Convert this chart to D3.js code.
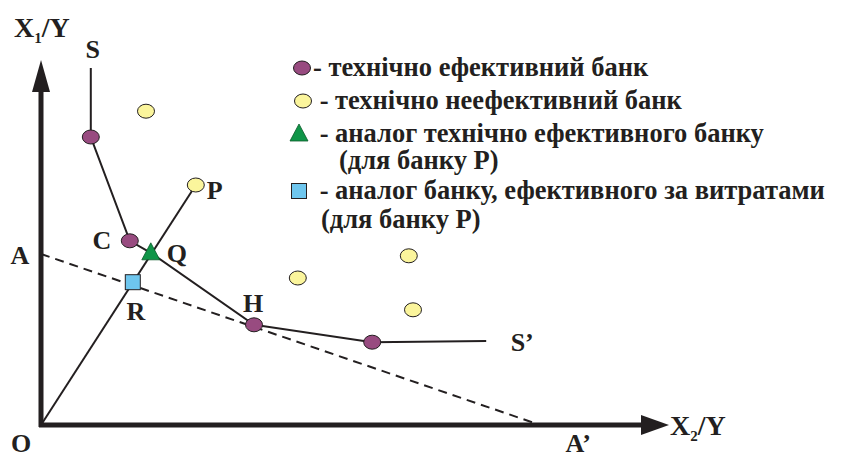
<!DOCTYPE html>
<html lang="uk">
<head>
<meta charset="UTF-8">
<script src="https://cdn.jsdelivr.net/npm/d3@7"></script>
<style>
  body { margin: 0; background: #fff; }
  text { font-family: "Liberation Serif", "Times New Roman", serif; font-weight: bold; fill: #231f20; }
</style>
</head>
<body>
<script>
// frontier S - S' (isoquant)
const frontier = [[8.3, 59.5], [8.3, 48], [14.8, 30.7], [18.3, 28.7], [35.5, 16.7], [55.2, 13.8], [74.2, 14]];
// technically efficient banks
const efficient = [[8.3, 48], [14.8, 30.7], [35.5, 16.7], [55.2, 13.8]];
// technically inefficient banks
const inefficient = [[17.5, 52.3], [25.8, 40], [42.8, 24.5], [61.3, 28.2], [62, 19.2]];
const pointP = [25.8, 40];
const pointQ = [18.3, 28.7];
const pointR = [15.3, 23.8];
// isocost A - A'
const isocost = [[0, 28.5], [83.2, 0]];

const pointLabels = [
  { t: "S", p: [8.3, 59.5], dx: 2, dy: -10 },
  { t: "C", p: [14.8, 30.7], dx: -28, dy: 8 },
  { t: "Q", p: [18.3, 28.7], dx: 26, dy: 9 },
  { t: "R", p: [15.3, 23.8], dx: 3, dy: 38 },
  { t: "H", p: [35.5, 16.7], dx: -1, dy: -13 },
  { t: "P", p: [25.8, 40], dx: 19, dy: 14 },
  { t: "S\u2019", p: [74.2, 14], dx: 36, dy: 10 },
  { t: "A", p: [0, 28.5], dx: -21, dy: 10 },
  { t: "A\u2019", p: [83.2, 0], dx: 38, dy: 27 },
  { t: "O", p: [0, 0], dx: -20, dy: 27 }
];

const legendItems = [
  { type: "eff", lines: ["- технічно ефективний банк"] },
  { type: "ineff", lines: [" - технічно неефективний банк"] },
  { type: "tri", lines: [" - аналог технічно ефективного банку", "(для банку P)"] },
  { type: "sq", lines: [" - аналог банку, ефективного за витратами", "(для банку P)"] }
];

const W = 845, H = 459;
const x = d3.scaleLinear().domain([0, 105]).range([41, 671]);
const y = d3.scaleLinear().domain([0, 60]).range([425, 65]);

const svg = d3.select("body").append("svg").attr("width", W).attr("height", H);

const ink = "#231f20";
const cols = { eff: "#984b80", ineff: "#fbf59c", tri: "#0f9548", sq: "#6ec6ee" };

const line = d3.line().x(d => x(d[0])).y(d => y(d[1]));

// dashed isocost
svg.append("path").attr("d", line(isocost))
  .attr("fill", "none").attr("stroke", ink).attr("stroke-width", 2).attr("stroke-dasharray", "9,6");

// ray O - P
svg.append("path").attr("d", line([[0, 0], pointP]))
  .attr("fill", "none").attr("stroke", ink).attr("stroke-width", 2);

// frontier
svg.append("path").attr("d", line(frontier))
  .attr("fill", "none").attr("stroke", ink).attr("stroke-width", 2);

// axes
svg.append("line").attr("x1", x(0)).attr("y1", y(0) + 2).attr("x2", x(0)).attr("y2", 86)
  .attr("stroke", ink).attr("stroke-width", 5);
svg.append("path").attr("d", `M${x(0)},60 L${x(0) - 9},92 L${x(0) + 9},92 Z`).attr("fill", ink);
svg.append("line").attr("x1", x(0) - 2).attr("y1", y(0)).attr("x2", 645).attr("y2", y(0))
  .attr("stroke", ink).attr("stroke-width", 5);
svg.append("path").attr("d", `M669,${y(0)} L641,${y(0) - 10} L641,${y(0) + 10} Z`).attr("fill", ink);

// axis titles
const yt = svg.append("text").attr("x", 14).attr("y", 37).attr("font-size", 28);
yt.append("tspan").text("X");
yt.append("tspan").attr("font-size", 15).attr("dy", 6).text("1");
yt.append("tspan").attr("dy", -6).text("/Y");
const xt = svg.append("text").attr("x", 670).attr("y", 435).attr("font-size", 28);
xt.append("tspan").text("X");
xt.append("tspan").attr("font-size", 15).attr("dy", 6).text("2");
xt.append("tspan").attr("dy", -6).text("/Y");

// markers
function ellipse(g, cx, cy, fill) {
  g.append("ellipse").attr("cx", cx).attr("cy", cy).attr("rx", 8.5).attr("ry", 7)
    .attr("fill", fill).attr("stroke", ink).attr("stroke-width", 1);
}
function triangle(g, cx, cy) {
  g.append("path").attr("d", `M${cx},${cy - 10} L${cx - 9},${cy + 7} L${cx + 9},${cy + 7} Z`)
    .attr("fill", cols.tri).attr("stroke", "#0a5a2a").attr("stroke-width", 0.8);
}
function square(g, cx, cy) {
  g.append("rect").attr("x", cx - 7.5).attr("y", cy - 7.5).attr("width", 15).attr("height", 15)
    .attr("fill", cols.sq).attr("stroke", ink).attr("stroke-width", 1);
}

const marks = svg.append("g");
inefficient.forEach(d => ellipse(marks, x(d[0]), y(d[1]), cols.ineff));
efficient.forEach(d => ellipse(marks, x(d[0]), y(d[1]), cols.eff));
square(marks, x(pointR[0]), y(pointR[1]));
triangle(marks, x(pointQ[0]), y(pointQ[1]));

// point labels
svg.selectAll("text.pl").data(pointLabels).enter().append("text").attr("class", "pl")
  .attr("x", d => x(d.p[0]) + d.dx).attr("y", d => y(d.p[1]) + d.dy)
  .attr("text-anchor", "middle").attr("font-size", 26).text(d => d.t);

// legend
const legY = [68, 101, 134, 191];
const lg = svg.append("g");
legendItems.forEach((it, i) => {
  const cy = legY[i];
  if (it.type === "eff") ellipse(lg, 302, cy, cols.eff);
  if (it.type === "ineff") ellipse(lg, 303, cy, cols.ineff);
  if (it.type === "tri") triangle(lg, 299, cy);
  if (it.type === "sq") square(lg, 299, cy);
  it.lines.forEach((s, j) => {
    lg.append("text").attr("x", j === 0 ? 313 : (i === 2 ? 339 : 321))
      .attr("y", cy + 8 + j * (i === 2 ? 27 : 29))
      .attr("font-size", 26.5).style("white-space", "pre").text(s);
  });
});
</script>
</body>
</html>
